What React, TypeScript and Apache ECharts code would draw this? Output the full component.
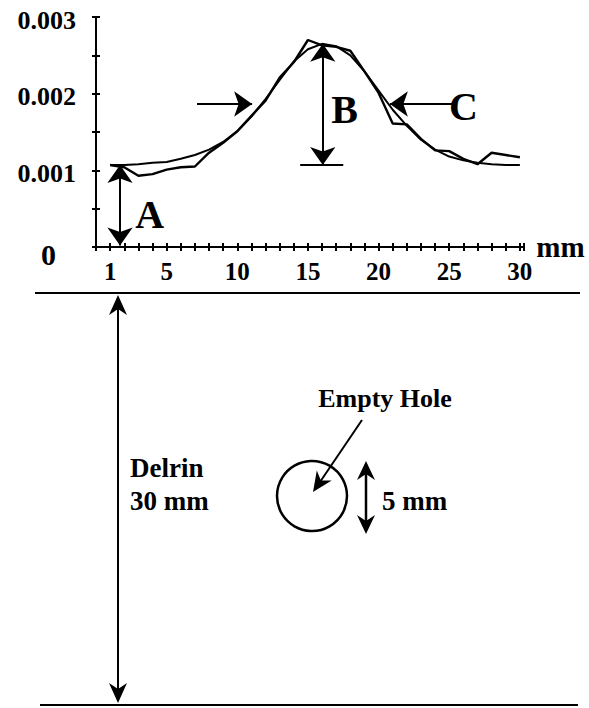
import React, { useEffect, useRef } from "react";
import * as echarts from "echarts";

// ---- data ----
const POSITIONS_MM = [1, 2, 3, 4, 5, 6, 7, 8, 9, 10, 11, 12, 13, 14, 15, 16, 17, 18, 19, 20, 21, 22, 23, 24, 25, 26, 27, 28, 29, 30];
const FITTED = [0.00107, 0.00107, 0.00108, 0.0011, 0.00111, 0.00115, 0.0012, 0.00127, 0.00137, 0.00151, 0.0017, 0.00193, 0.00218, 0.00242, 0.00258, 0.00265, 0.00262, 0.0025, 0.00229, 0.00204, 0.00179, 0.00158, 0.0014, 0.00127, 0.00118, 0.00113, 0.0011, 0.00108, 0.00107, 0.00107];
const MEASURED = [0.00107, 0.00104, 0.00093, 0.00095, 0.00101, 0.00104, 0.00105, 0.00123, 0.00136, 0.00151, 0.00171, 0.00191, 0.00221, 0.00241, 0.0027, 0.00263, 0.00261, 0.00256, 0.00229, 0.00201, 0.00161, 0.0016, 0.00141, 0.00126, 0.00125, 0.00115, 0.00108, 0.00123, 0.0012, 0.00117];
const X_TICK_LABELS = [1, 5, 10, 15, 20, 25, 30];
const Y_TICK_LABELS = [0, 0.001, 0.002, 0.003];
const BASELINE = 0.00107;
const PEAK = 0.00265;
const HALF_LEVEL = 0.001865;

const FONT = '"Liberation Serif", serif';

function arrowHead(tx: number, ty: number, dx: number, dy: number, len = 17, half = 9, notch = 5) {
  const l = Math.hypot(dx, dy);
  const ux = dx / l, uy = dy / l;
  const nx = -uy, ny = ux;
  const bx = tx - ux * len, by = ty - uy * len;
  const mx = tx - ux * (len - notch), my = ty - uy * (len - notch);
  return {
    type: "polygon",
    shape: { points: [[tx, ty], [bx + nx * half, by + ny * half], [mx, my], [bx - nx * half, by - ny * half]] },
    style: { fill: "#000" },
    silent: true,
  };
}

function line(x1: number, y1: number, x2: number, y2: number, w = 2) {
  return { type: "line", shape: { x1, y1, x2, y2 }, style: { stroke: "#000", lineWidth: w }, silent: true };
}

function text(t: string, x: number, y: number, size: number, align = "left") {
  return {
    type: "text",
    x,
    y,
    style: { text: t, fontSize: size, fontFamily: FONT, fontWeight: "bold", fill: "#000", align, verticalAlign: "middle" },
    silent: true,
  };
}

export default function App() {
  const ref = useRef<HTMLDivElement>(null);
  useEffect(() => {
    if (!ref.current) return;
    const chart = echarts.init(ref.current, null, { renderer: "svg" });
    const arrowLine = (a: number[], b: number[], startArrow: boolean, endArrow: boolean) => [
      { coord: a, symbol: startArrow ? "arrow" : "none" },
      { coord: b, symbol: endArrow ? "arrow" : "none" },
    ];
    const axisCommon = {
      axisLine: { show: true, lineStyle: { color: "#000", width: 2 } },
      splitLine: { show: false },
    };
    chart.setOption({
      animation: false,
      textStyle: { fontFamily: FONT, color: "#000" },
      grid: { left: 96, top: 17, width: 427.4, bottom: 461, containLabel: false },
      xAxis: [
        {
          type: "value",
          min: 0,
          max: 30.25,
          interval: 1,
          ...axisCommon,
          axisTick: { show: true, length: 4, lineStyle: { color: "#000", width: 2 } },
          axisLabel: {
            customValues: X_TICK_LABELS,
            fontSize: 25,
            fontWeight: "bold",
            color: "#000",
            margin: 12,
            fontFamily: FONT,
            formatter: (v: number) => String(v),
          },
          name: "mm",
          nameLocation: "end",
          nameGap: 9,
          nameTextStyle: { fontSize: 29, fontWeight: "bold", fontFamily: FONT, color: "#000", verticalAlign: "middle", padding: [0, 0, 6, 0] },
        },
        {
          type: "value",
          position: "bottom",
          min: 0,
          max: 30.25,
          interval: 1,
          axisLine: { show: false },
          splitLine: { show: false },
          axisTick: { show: true, inside: true, length: 4, lineStyle: { color: "#000", width: 2 } },
          axisLabel: { show: false },
        },
      ],
      yAxis: [
        {
          type: "value",
          min: 0,
          max: 0.003,
          interval: 0.0005,
          ...axisCommon,
          axisTick: { show: true, length: 4, lineStyle: { color: "#000", width: 2 } },
          axisLabel: {
            customValues: Y_TICK_LABELS,
            fontSize: 26,
            fontWeight: "bold",
            color: "#000",
            margin: 20,
            fontFamily: FONT,
            padding: [6, 0, 0, 0],
            formatter: (v: number) => (v === 0 ? "{z|0}" : v.toFixed(3)),
            rich: { z: { fontSize: 30, fontWeight: "bold", fontFamily: FONT, color: "#000", padding: [8, 20, 0, 0] } },
          },
        },
        {
          type: "value",
          position: "left",
          min: 0,
          max: 0.003,
          interval: 0.0005,
          axisLine: { show: false },
          splitLine: { show: false },
          axisTick: { show: true, inside: true, length: 4, lineStyle: { color: "#000", width: 2 } },
          axisLabel: { show: false },
        },
      ],
      series: [
        {
          type: "line",
          name: "fitted",
          data: POSITIONS_MM.map((x, i) => [x, FITTED[i]]),
          symbol: "none",
          lineStyle: { color: "#000", width: 2 },
          silent: true,
          markLine: {
            silent: true,
            symbolSize: [19, 18],
            label: { show: false },
            lineStyle: { color: "#000", width: 2, type: "solid" },
            data: [
              arrowLine([1.7, 0.00002], [1.7, BASELINE], true, true),
              arrowLine([16.05, BASELINE], [16.05, PEAK], true, true),
              arrowLine([14.45, BASELINE], [17.5, BASELINE], false, false),
              arrowLine([7.15, HALF_LEVEL], [11.05, HALF_LEVEL], false, true),
              arrowLine([25.4, HALF_LEVEL], [20.8, HALF_LEVEL], false, true),
            ],
          },
        },
        {
          type: "line",
          name: "measured",
          data: POSITIONS_MM.map((x, i) => [x, MEASURED[i]]),
          symbol: "none",
          lineStyle: { color: "#000", width: 2.4 },
          silent: true,
        },
      ],
    });

    const px = (x: number, y: number) => chart.convertToPixel({ gridIndex: 0 }, [x, y]) as number[];
    const a = px(3.8, 0.00043);
    const b = px(17.6, 0.0018);
    const c = px(26.0, 0.00183);

    // lower diagram (schematic of the phantom)
    const topY = 293, botY = 705, arrowX = 118;
    const cx = 312, cy = 496, r = 35;
    const holeArrowX = 366;
    chart.setOption({
      graphic: [
        text("A", a[0], a[1], 40, "center"),
        text("B", b[0], b[1], 40, "center"),
        text("C", c[0], c[1], 40, "center"),
        line(35, topY, 580, topY, 2),
        line(40, botY, 578, botY, 2),
        line(arrowX, topY + 4, arrowX, botY - 4, 2),
        arrowHead(arrowX, topY + 2, 0, -1, 20, 9, 6),
        arrowHead(arrowX, botY - 2, 0, 1, 20, 9, 6),
        text("Delrin", 130, 468, 27),
        text("30 mm", 130, 501, 27),
        {
          type: "circle",
          shape: { cx, cy, r },
          style: { fill: "none", stroke: "#000", lineWidth: 2.5 },
          silent: true,
        },
        text("Empty Hole", 385, 398, 26, "center"),
        line(362, 420, 320, 482, 2),
        arrowHead(313, 492, -49, 72, 20, 9, 6),
        line(holeArrowX, 470, holeArrowX, 525, 2.5),
        arrowHead(holeArrowX, 461, 0, -1, 19, 9, 6),
        arrowHead(holeArrowX, 534, 0, 1, 19, 9, 6),
        text("5 mm", 382, 501, 27),
      ],
    });
    return () => chart.dispose();
  }, []);
  return <div ref={ref} style={{ position: "absolute", left: 0, top: 0, width: 589, height: 708, background: "#fff" }} />;
}
